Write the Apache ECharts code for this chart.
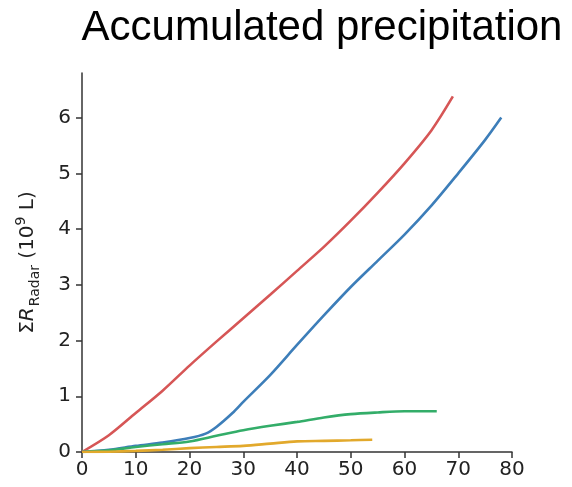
<!DOCTYPE html>
<html>
<head>
<meta charset="utf-8">
<script src="https://cdn.jsdelivr.net/npm/echarts@6/dist/echarts.min.js"></script>
<style>
  html, body { margin: 0; padding: 0; background: #fff; }
  #chart { width: 572px; height: 487px; }
</style>
</head>
<body>
<div id="chart"></div>
<script>
// Time (x) and accumulated radar rainfall (10^9 L) for each of the four storms
const redX = [0, 5, 10, 15, 20, 25, 30, 35, 40, 45, 50, 55, 60, 65, 69];
const redY = [0, 0.3, 0.7, 1.1, 1.55, 1.98, 2.4, 2.82, 3.25, 3.68, 4.15, 4.65, 5.18, 5.77, 6.38];

const blueX = [0, 5, 10, 15, 20, 23, 25, 28, 30, 35, 40, 45, 50, 55, 60, 65, 70, 75, 78];
const blueY = [0, 0.04, 0.11, 0.17, 0.25, 0.33, 0.45, 0.7, 0.9, 1.38, 1.92, 2.45, 2.96, 3.43, 3.9, 4.42, 5.0, 5.6, 6.0];

const greenX = [0, 5, 10, 15, 20, 25, 30, 35, 40, 45, 50, 55, 60, 66];
const greenY = [0, 0.03, 0.09, 0.14, 0.19, 0.29, 0.39, 0.47, 0.54, 0.62, 0.68, 0.71, 0.73, 0.73];

const yellowX = [0, 5, 10, 15, 20, 25, 30, 35, 40, 45, 50, 54];
const yellowY = [0, 0.005, 0.02, 0.04, 0.07, 0.09, 0.11, 0.15, 0.19, 0.2, 0.21, 0.22];

const xTicks = [0, 10, 20, 30, 40, 50, 60, 70, 80];
const yTicks = [0, 1, 2, 3, 4, 5, 6];

const pairs = (xs, ys) => xs.map((x, i) => [x, ys[i]]);

const axisColor = '#333';
const labelFont = 'DejaVu Sans';

function line(name, xs, ys, color) {
  return {
    name: name,
    type: 'line',
    data: pairs(xs, ys),
    smooth: 0.3,
    showSymbol: false,
    symbol: 'none',
    lineStyle: { color: color, width: 2.6 },
    itemStyle: { color: color },
    animation: false
  };
}

const chart = echarts.init(document.getElementById('chart'), null, { renderer: 'canvas' });
chart.setOption({
  backgroundColor: '#fff',
  animation: false,
  title: {
    text: 'Accumulated precipitation',
    left: 317,
    top: 2,
    textAlign: 'center',
    textStyle: { fontFamily: 'Liberation Sans', fontSize: 42, fontWeight: 'normal', color: '#000' }
  },
  grid: { left: 82, right: 60, top: 73, bottom: 35, containLabel: false },
  xAxis: {
    type: 'value',
    min: 0,
    max: 80,
    interval: 10,
    splitLine: { show: false },
    axisLine: { lineStyle: { color: axisColor, width: 1.5 } },
    axisTick: { length: 6, lineStyle: { color: axisColor, width: 1.5 } },
    axisLabel: {
      fontFamily: labelFont, fontSize: 20, color: '#222', margin: 8,
      customValues: xTicks
    }
  },
  yAxis: {
    type: 'value',
    min: 0,
    max: 6.8,
    splitLine: { show: false },
    axisLine: { show: true, lineStyle: { color: axisColor, width: 1.5 } },
    axisTick: { show: true, length: 6, lineStyle: { color: axisColor, width: 1.5 }, customValues: yTicks },
    axisLabel: {
      fontFamily: labelFont, fontSize: 20, color: '#222', margin: 11,
      customValues: yTicks
    },
    name: '{n|Σ}{i|R}{sub|Radar}{n| (10}{sup|9}{n| L)}',
    nameLocation: 'middle',
    nameRotate: 90,
    nameGap: 40,
    nameTextStyle: {
      rich: {
        n: { fontFamily: labelFont, fontSize: 20, color: '#222', lineHeight: 28, verticalAlign: 'middle' },
        i: { fontFamily: labelFont, fontSize: 20, fontStyle: 'italic', color: '#222', lineHeight: 28, verticalAlign: 'middle' },
        sub: { fontFamily: labelFont, fontSize: 14, color: '#222', lineHeight: 28, verticalAlign: 'bottom', padding: [0, 0, 0, 1] },
        sup: { fontFamily: labelFont, fontSize: 14, color: '#222', lineHeight: 28, verticalAlign: 'top' }
      }
    }
  },
  series: [
    line('red', redX, redY, '#d65656'),
    line('blue', blueX, blueY, '#3d7eb9'),
    line('green', greenX, greenY, '#33ad69'),
    line('yellow', yellowX, yellowY, '#e2a92c')
  ]
});
</script>
</body>
</html>
